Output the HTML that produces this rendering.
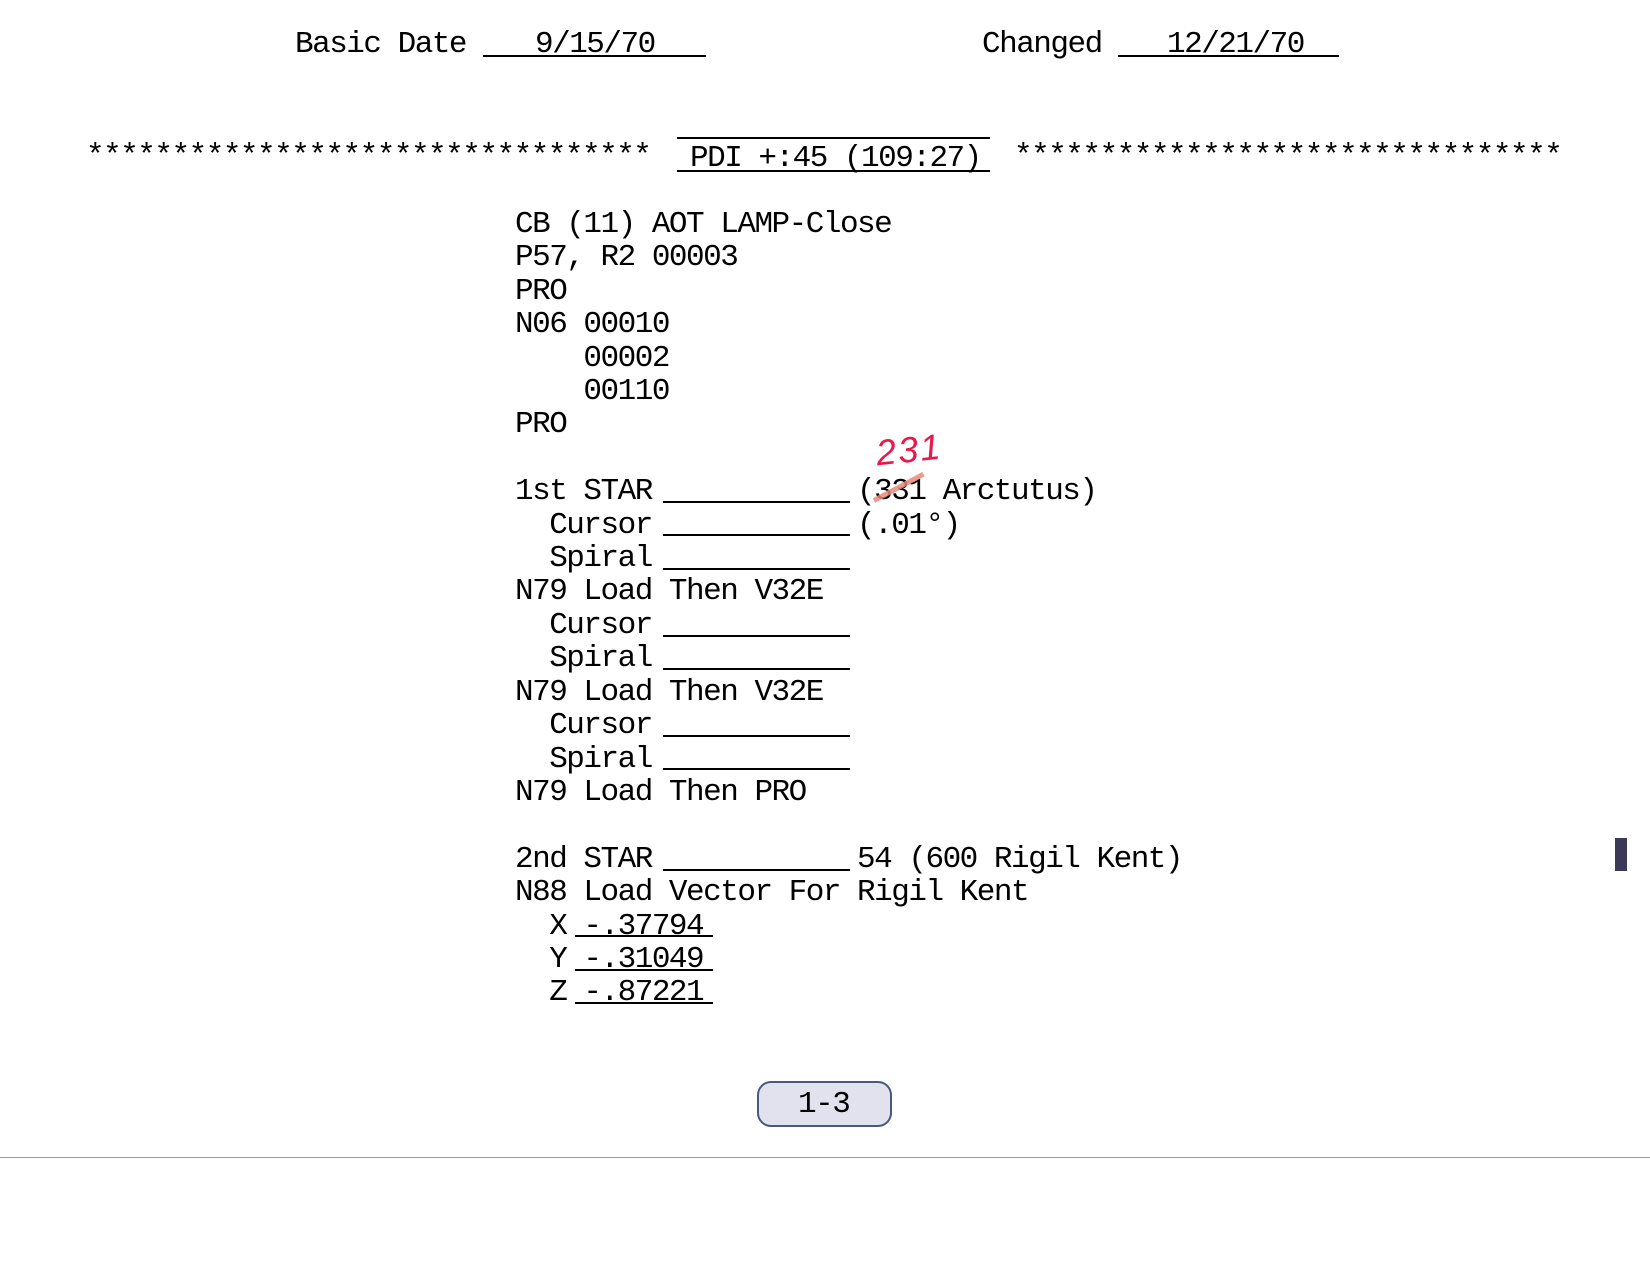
<!DOCTYPE html>
<html><head><meta charset="utf-8"><style>
html,body{margin:0;padding:0;background:#fff;}
body{width:1650px;height:1275px;position:relative;overflow:hidden;font-family:"Liberation Mono",monospace;font-size:31px;color:#000;}
.t{position:absolute;white-space:pre;line-height:34px;letter-spacing:-1.5px;}
.u{position:absolute;height:2px;background:#000;}
</style></head><body>
<!-- header -->
<div class="t" style="left:295px;top:28px;">Basic Date</div>
<div class="t" style="left:535px;top:28px;">9/15/70</div>
<div class="u" style="left:483px;top:55px;width:223px;"></div>
<div class="t" style="left:982px;top:28px;">Changed</div>
<div class="t" style="left:1167px;top:28px;">12/21/70</div>
<div class="u" style="left:1118px;top:55px;width:221px;"></div>

<!-- stars row -->
<div class="t" style="left:86px;top:140px;">*********************************</div>
<div class="t" style="left:1014px;top:140px;">********************************</div>
<div class="u" style="left:677px;top:137px;width:313px;"></div>
<div class="u" style="left:677px;top:170px;width:313px;"></div>
<div class="t" style="left:690px;top:142px;">PDI +:45 (109:27)</div>

<!-- main block -->
<div class="t" style="left:515px;top:208px;line-height:33.4px;">CB (11) AOT LAMP-Close
P57, R2 00003
PRO
N06 00010
    00002
    00110
PRO

1st STAR            (331 Arctutus)
  Cursor            (.01°)
  Spiral
N79 Load Then V32E
  Cursor
  Spiral
N79 Load Then V32E
  Cursor
  Spiral
N79 Load Then PRO

2nd STAR            54 (600 Rigil Kent)
N88 Load Vector For Rigil Kent
  X -.37794
  Y -.31049
  Z -.87221</div>

<!-- blanks -->
<div class="u" style="left:663px;top:501px;width:187px;"></div>
<div class="u" style="left:663px;top:534px;width:187px;"></div>
<div class="u" style="left:663px;top:568px;width:187px;"></div>
<div class="u" style="left:663px;top:635px;width:187px;"></div>
<div class="u" style="left:663px;top:668px;width:187px;"></div>
<div class="u" style="left:663px;top:735px;width:187px;"></div>
<div class="u" style="left:663px;top:768px;width:187px;"></div>
<div class="u" style="left:663px;top:869px;width:187px;"></div>
<div class="u" style="left:575px;top:935px;width:138px;"></div>
<div class="u" style="left:575px;top:969px;width:138px;"></div>
<div class="u" style="left:575px;top:1002px;width:138px;"></div>

<!-- handwritten correction -->
<div style="position:absolute;left:874px;top:498px;width:56px;height:5px;background:#e8897a;opacity:0.85;transform:rotate(-28deg);transform-origin:left center;"></div>
<div style="position:absolute;left:876px;top:430px;font-family:'Liberation Sans',sans-serif;font-style:italic;font-size:36px;color:#e8184a;line-height:40px;letter-spacing:2px;transform:rotate(-6deg);">231</div>

<!-- page box -->
<div style="position:absolute;left:757px;top:1081px;width:131px;height:42px;border:2px solid #4a5a78;border-radius:14px;background:#e2e2ee;"></div>
<div class="t" style="left:798px;top:1088px;">1-3</div>

<!-- rule -->
<div style="position:absolute;left:0;top:1157px;width:1650px;height:1px;background:#999;"></div>
<!-- side bar -->
<div style="position:absolute;left:1615px;top:838px;width:12px;height:33px;background:#3a3a58;"></div>
</body></html>
